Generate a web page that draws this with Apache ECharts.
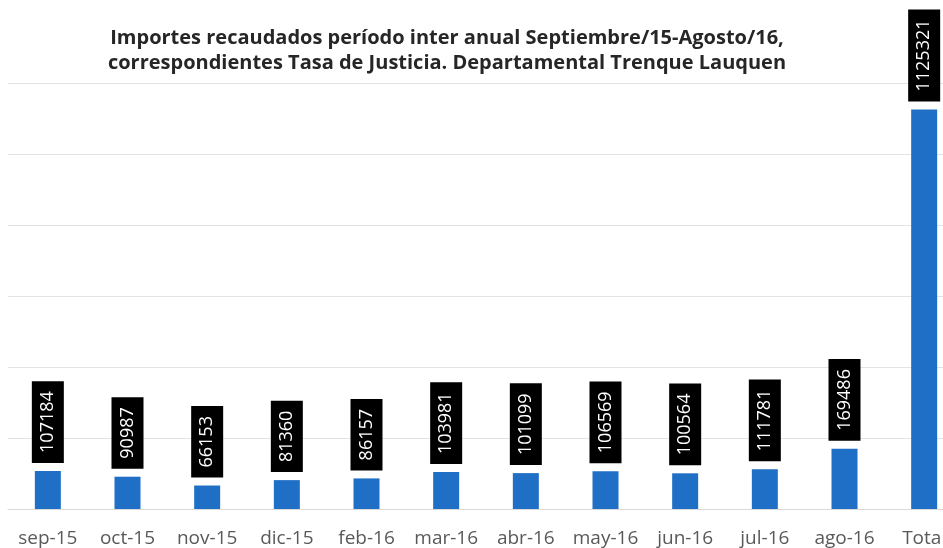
<!DOCTYPE html>
<html>
<head>
    <meta charset="utf-8">
    <title>Importes recaudados</title>
    <script src="https://cdn.jsdelivr.net/npm/echarts@6/dist/echarts.min.js"></script>
    <style>
        html, body { margin: 0; padding: 0; background: #fff; overflow: hidden; }
    </style>
</head>
<body>
    <!-- el grafico original esta recortado a la derecha: el div es mas ancho que la ventana -->
    <div id="main" style="width: 964px;height:548px;"></div>
    <script type="text/javascript">
        // datos
        var meses = ['sep-15', 'oct-15', 'nov-15', 'dic-15', 'feb-16', 'mar-16', 'abr-16', 'may-16', 'jun-16', 'jul-16', 'ago-16', 'Total'];
        var importes = [107184, 90987, 66153, 81360, 86157, 103981, 101099, 106569, 100564, 111781, 169486, 1125321];

        var myChart = echarts.init(document.getElementById('main'));

        var option = {
            backgroundColor: '#ffffff',
            animation: false,
            title: {
                text: 'Importes recaudados período inter anual Septiembre/15-Agosto/16,\ncorrespondientes Tasa de Justicia. Departamental Trenque Lauquen',
                left: 442,
                textAlign: 'center',
                top: 21,
                textStyle: {
                    fontFamily: 'Open Sans',
                    fontSize: 20,
                    fontWeight: 'bold',
                    color: '#262626',
                    lineHeight: 25
                }
            },
            grid: {
                left: 8,
                right: 0,
                top: 83,
                bottom: 39
            },
            xAxis: {
                type: 'category',
                data: meses,
                axisTick: { show: false },
                axisLine: { lineStyle: { color: '#d9d9d9' } },
                axisLabel: {
                    interval: 0,
                    color: '#595959',
                    fontFamily: 'Open Sans',
                    fontSize: 19,
                    margin: 20
                }
            },
            yAxis: {
                type: 'value',
                min: 0,
                max: 1200000,
                interval: 200000,
                axisLabel: { show: false },
                axisLine: { show: false },
                axisTick: { show: false },
                splitLine: { lineStyle: { color: '#e3e3e3' } }
            },
            series: [{
                type: 'bar',
                data: importes,
                barWidth: 26,
                itemStyle: { color: '#1f6fc6' },
                label: {
                    show: true,
                    position: 'top',
                    distance: 8,
                    rotate: 90,
                    align: 'left',
                    verticalAlign: 'middle',
                    color: '#ffffff',
                    backgroundColor: '#000000',
                    fontFamily: 'Open Sans',
                    fontSize: 18,
                    lineHeight: 20,
                    padding: [6, 10, 6, 10]
                }
            }]
        };

        myChart.setOption(option);
    </script>
</body>
</html>
